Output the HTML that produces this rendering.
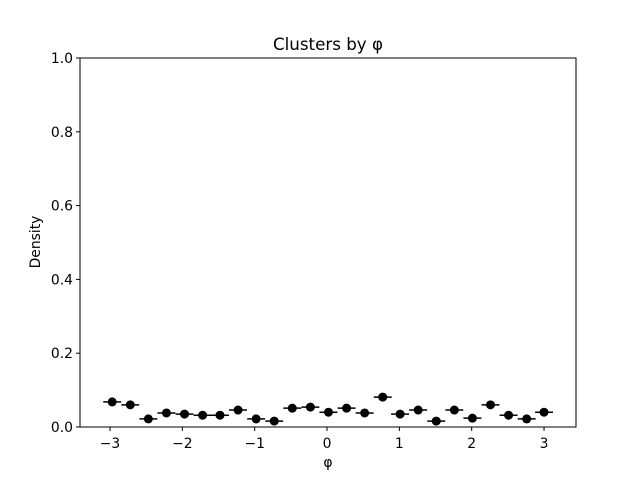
<!DOCTYPE html>
<html><head><meta charset="utf-8"><style>
body{margin:0;background:#fff;}
svg text{font-family:"DejaVu Sans","Liberation Sans",sans-serif;font-size:13.9px;fill:#000;}
</style></head><body>
<svg id="chart" width="640" height="480">
<rect x="0" y="0" width="640" height="480" fill="#fff"/>
<text x="328" y="50" text-anchor="middle" style="font-size:16.7px">Clusters by φ</text>
<g id="marks"></g>
<g id="axes"></g>
<text x="328" y="467" text-anchor="middle">φ</text>
<text transform="translate(40,242) rotate(-90)" text-anchor="middle">Density</text>
</svg>
<script>
const xCenters = [-2.97,-2.72,-2.47,-2.22,-1.97,-1.72,-1.48,-1.23,-0.98,-0.73,-0.48,-0.23,0.02,0.27,0.52,0.77,1.01,1.26,1.51,1.76,2.01,2.26,2.51,2.76,3.0];
const densities = [0.068,0.060,0.022,0.038,0.035,0.032,0.032,0.046,0.022,0.016,0.051,0.054,0.040,0.051,0.038,0.081,0.035,0.046,0.016,0.046,0.024,0.060,0.032,0.022,0.040];
const yErrors = [0.008,0.007,0.004,0.006,0.005,0.005,0.005,0.006,0.004,0.004,0.006,0.007,0.006,0.006,0.005,0.009,0.005,0.006,0.004,0.006,0.005,0.007,0.005,0.004,0.006];
const halfBin = 0.124;
const xTicks = [-3,-2,-1,0,1,2,3];
const xTickLabels = ["−3","−2","−1","0","1","2","3"];
const yTicks = [0,0.2,0.4,0.6,0.8,1.0];
const yTickLabels = ["0.0","0.2","0.4","0.6","0.8","1.0"];

const L=80,R=576,T=58,B=427, xmin=-3.415, xmax=3.442;
const sx = v => L + (v - xmin) / (xmax - xmin) * (R - L);
const sy = v => B - v * (B - T);
const NS="http://www.w3.org/2000/svg";
function mk(tag, attrs, parent){const e=document.createElementNS(NS,tag);for(const k in attrs)e.setAttribute(k,attrs[k]);parent.appendChild(e);return e;}
const marks=document.getElementById('marks'), axes=document.getElementById('axes');
xCenters.forEach((x,i)=>{
  const g=mk('g',{},marks);
  
  
  const cx=sx(x), cy=sy(densities[i]);
  mk('line',{x1:sx(x-halfBin),x2:sx(x+halfBin),y1:cy,y2:cy,stroke:'#000','stroke-width':1.5},g);
  mk('line',{x1:cx,x2:cx,y1:sy(densities[i]-yErrors[i]),y2:sy(densities[i]+yErrors[i]),stroke:'#000','stroke-width':1.5},g);
  mk('circle',{cx:cx,cy:cy,r:4.5,fill:'#000'},g);
});
const frame=mk('rect',{x:L,y:T,width:R-L,height:B-T,fill:'none',stroke:'#000','stroke-width':1},axes);


xTicks.forEach((t,i)=>{
  const x=sx(t);
  mk('line',{x1:x,x2:x,y1:B,y2:B+4,stroke:'#000'},axes);
  const tx=mk('text',{x:x,y:B+21,'text-anchor':'middle'},axes);
  tx.textContent=xTickLabels[i];
  
  
});
yTicks.forEach((t,i)=>{
  const y=sy(t);
  mk('line',{x1:L-4,x2:L,y1:y,y2:y,stroke:'#000'},axes);
  const tx=mk('text',{x:L-7,y:y+5,'text-anchor':'end'},axes);
  tx.textContent=yTickLabels[i];
  
  
});
</script>
</body></html>
